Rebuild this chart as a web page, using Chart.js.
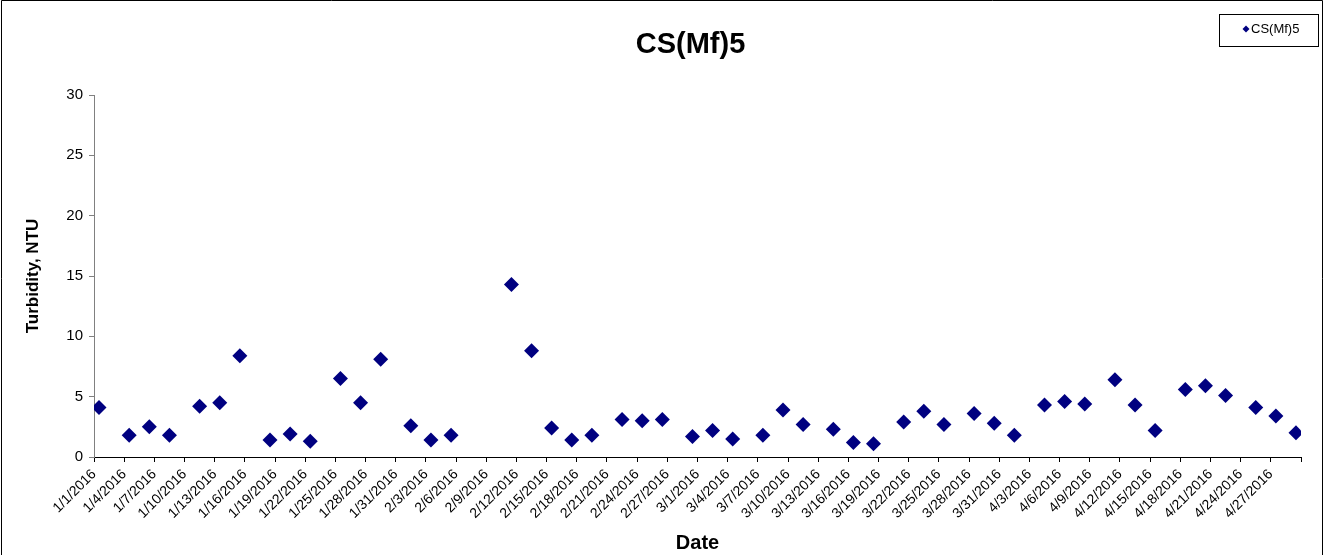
<!DOCTYPE html>
<html>
<head>
<meta charset="utf-8">
<script src="https://cdn.jsdelivr.net/npm/chart.js@4.4.1/dist/chart.umd.min.js"></script>
<style>
  html, body { margin: 0; padding: 0; background: #fff; }
  #wrap { width: 1324px; height: 555px; position: relative; }
</style>
</head>
<body>
<div id="wrap"><canvas id="turbidityChart" width="1324" height="555"></canvas></div>
<script>
// --- DATA ---
const sampleDates = [
    '1/1/2016', '1/4/2016', '1/6/2016', '1/8/2016', '1/11/2016', '1/13/2016', '1/15/2016',
    '1/18/2016', '1/20/2016', '1/22/2016', '1/25/2016', '1/27/2016', '1/29/2016',
    '2/1/2016', '2/3/2016', '2/5/2016', '2/11/2016', '2/13/2016', '2/15/2016', '2/17/2016',
    '2/19/2016', '2/22/2016', '2/24/2016', '2/26/2016', '2/29/2016',
    '3/2/2016', '3/4/2016', '3/7/2016', '3/9/2016', '3/11/2016', '3/14/2016', '3/16/2016',
    '3/18/2016', '3/21/2016', '3/23/2016', '3/25/2016', '3/28/2016', '3/30/2016',
    '4/1/2016', '4/4/2016', '4/6/2016', '4/8/2016', '4/11/2016', '4/13/2016', '4/15/2016',
    '4/18/2016', '4/20/2016', '4/22/2016', '4/25/2016', '4/27/2016', '4/29/2016'
];
const turbidityNTU = [
    4.1, 1.8, 2.5, 1.8, 4.2, 4.5, 8.4,
    1.4, 1.9, 1.3, 6.5, 4.5, 8.1,
    2.6, 1.4, 1.8, 14.3, 8.8, 2.4, 1.4,
    1.8, 3.1, 3.0, 3.1, 1.7,
    2.2, 1.5, 1.8, 3.9, 2.7, 2.3, 1.2,
    1.1, 2.9, 3.8, 2.7, 3.6, 2.8,
    1.8, 4.3, 4.6, 4.4, 6.4, 4.3, 2.2,
    5.6, 5.9, 5.1, 4.1, 3.4, 2.0
];
const seriesName = 'CS(Mf)5';
const axisStart = '1/1/2016';
const axisEnd = '4/30/2016';
const yTicks = [0, 5, 10, 15, 20, 25, 30];

// --- helpers: days since axis start ---
function parseDate(s) {
    const [m, d, y] = s.split('/').map(Number);
    return new Date(y, m - 1, d);
}
const dayMs = 86400000;
const t0 = parseDate(axisStart);
function dayIndex(s) { return Math.round((parseDate(s) - t0) / dayMs); }
function dayLabel(n) {
    const d = new Date(t0.getFullYear(), t0.getMonth(), t0.getDate() + n);
    return (d.getMonth() + 1) + '/' + d.getDate() + '/' + d.getFullYear();
}
const lastDay = dayIndex(axisEnd);

// points sit in the middle of their day, like a date axis "between tick marks"
const points = sampleDates.map((s, i) => ({ x: dayIndex(s) + 0.5, y: turbidityNTU[i] }));

// --- PLUGIN: frame, title, legend box ---
const decorPlugin = {
    id: 'decor',
    afterDraw(chart) {
        const ctx = chart.ctx;
        const area = chart.chartArea;
        ctx.save();
        // outer frame
        ctx.strokeStyle = '#000';
        ctx.lineWidth = 1;
        ctx.beginPath();
        ctx.moveTo(1.5, 600);
        ctx.lineTo(1.5, 0.5);
        ctx.lineTo(1322.5, 0.5);
        ctx.lineTo(1322.5, 600);
        ctx.stroke();

        // title
        ctx.fillStyle = '#000';
        ctx.font = 'bold 29px Arial, "Liberation Sans", sans-serif';
        ctx.textAlign = 'center';
        ctx.textBaseline = 'middle';
        ctx.fillText(seriesName, (area.left + area.right) / 2 - 7, 45);

        // legend
        const bx = 1219.5, by = 14.5, bw = 99, bh = 32;
        ctx.strokeRect(bx, by, bw, bh);
        const mx = 1246, my = 29, r = 3.5;
        ctx.fillStyle = '#000080';
        ctx.beginPath();
        ctx.moveTo(mx, my - r);
        ctx.lineTo(mx + r, my);
        ctx.lineTo(mx, my + r);
        ctx.lineTo(mx - r, my);
        ctx.closePath();
        ctx.fill();
        ctx.fillStyle = '#000';
        ctx.font = '13px Arial, "Liberation Sans", sans-serif';
        ctx.textAlign = 'left';
        ctx.fillText(seriesName, 1251, 29);
        ctx.restore();
    }
};

const ctx = document.getElementById('turbidityChart').getContext('2d');
new Chart(ctx, {
    type: 'scatter',
    data: {
        datasets: [{
            label: seriesName,
            data: points,
            pointStyle: 'rectRot',
            pointRadius: 7.5,
            pointHoverRadius: 7.5,
            backgroundColor: '#000080',
            borderColor: '#000080',
            borderWidth: 0
        }]
    },
    options: {
        responsive: false,
        animation: false,
        layout: { padding: { left: 0, right: 23, top: 95, bottom: 0 } },
        plugins: {
            legend: { display: false },
            title: { display: false },
            tooltip: { enabled: false }
        },
        scales: {
            x: {
                type: 'linear',
                min: 0,
                max: lastDay,
                afterBuildTicks(scale) {
                    const t = [];
                    for (let v = 0; v <= lastDay; v += 3) t.push({ value: v });
                    scale.ticks = t;
                },
                afterFit(scale) { scale.height = 98; },
                ticks: {
                    autoSkip: false,
                    minRotation: 45,
                    maxRotation: 45,
                    padding: 4,
                    color: '#000',
                    font: { family: 'Arial, "Liberation Sans", sans-serif', size: 14 },
                    callback: v => (v >= lastDay ? '' : dayLabel(v))
                },
                grid: {
                    display: true,
                    drawOnChartArea: false,
                    drawTicks: true,
                    tickLength: 5,
                    color: '#000'
                },
                border: { display: true, color: '#000', width: 1 },
                title: {
                    display: true,
                    text: 'Date',
                    color: '#000',
                    font: { family: 'Arial, "Liberation Sans", sans-serif', size: 20, weight: 'bold' },
                    padding: { top: 0, bottom: 0 }
                }
            },
            y: {
                min: 0,
                max: 30,
                afterBuildTicks(scale) { scale.ticks = yTicks.map(v => ({ value: v })); },
                afterFit(scale) { scale.width = 94; },
                ticks: {
                    padding: 6,
                    color: '#000',
                    font: { family: 'Arial, "Liberation Sans", sans-serif', size: 15 }
                },
                grid: {
                    display: true,
                    drawOnChartArea: false,
                    drawTicks: true,
                    tickLength: 5,
                    color: '#808080'
                },
                border: { display: true, color: '#808080', width: 1 },
                title: {
                    display: true,
                    text: 'Turbidity, NTU',
                    color: '#000',
                    font: { family: 'Arial, "Liberation Sans", sans-serif', size: 17, weight: 'bold' },
                    padding: { top: 23, bottom: 0 }
                }
            }
        }
    },
    plugins: [decorPlugin]
});
</script>
</body>
</html>
